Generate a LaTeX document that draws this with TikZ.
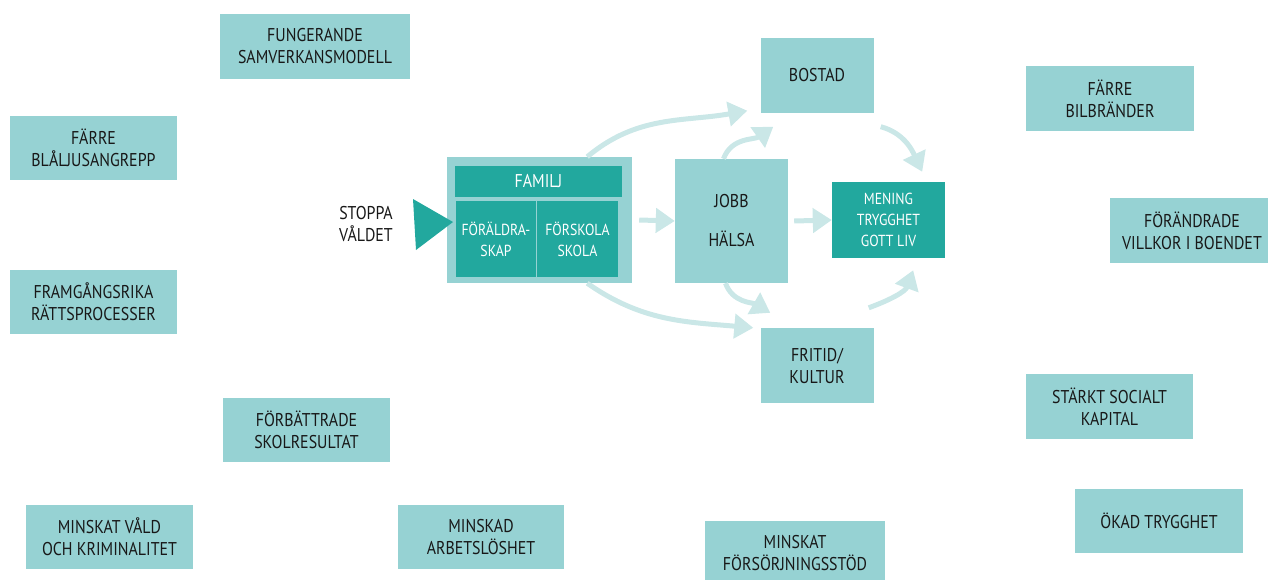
\documentclass[tikz,border=0pt]{standalone}
\usepackage{fontspec}
\setmainfont[FakeStretch=0.86]{PT Sans}
\definecolor{paleteal}{RGB}{150,210,211}
\definecolor{deepteal}{RGB}{34,168,158}
\definecolor{flowteal}{RGB}{202,231,231}
\definecolor{inkblack}{RGB}{24,24,24}
\usetikzlibrary{arrows.meta,positioning}
\tikzset{
    goal/.style={fill=paleteal, text=inkblack, align=center, inner sep=0pt,
                 font=\fontsize{18.5}{22}\selectfont},
    core/.style={fill=deepteal, text=white, align=center, inner sep=0pt,
                 font=\fontsize{16}{21}\selectfont},
    flow/.style={draw=flowteal, line width=5pt,
                 -{Triangle[length=19pt,width=24pt]}}
}

\begin{document}
\begin{tikzpicture}[x=1pt, y=-1pt]
    \useasboundingbox (0,0) rectangle (1268,579);

    \node[goal, minimum width=190, minimum height=65] (samv) at (315,46.5) {FUNGERANDE\\SAMVERKANSMODELL};
    \node[goal, minimum width=167, minimum height=64] (blal) at (93.5,148) {FÄRRE\\BLÅLJUSANGREPP};
    \node[goal, minimum width=167, minimum height=64] (ratt) at (93.5,302) {FRAMGÅNGSRIKA\\RÄTTSPROCESSER};
    \node[goal, minimum width=167, minimum height=64] (skol) at (306.5,430) {FÖRBÄTTRADE\\SKOLRESULTAT};
    \node[goal, minimum width=167, minimum height=64] (vald) at (109.5,537) {MINSKAT VÅLD\\OCH KRIMINALITET};
    \node[goal, minimum width=166, minimum height=64] (arbl) at (481,537) {MINSKAD\\ARBETSLÖSHET};
    \node[goal, minimum width=180, minimum height=64] (fors) at (795,553) {MINSKAT\\FÖRSÖRJNINGSSTÖD};
    \node[goal, minimum width=168, minimum height=65] (bilb) at (1110,98.5) {FÄRRE\\BILBRÄNDER};
    \node[goal, minimum width=164, minimum height=65] (vill) at (1192,230.5) {FÖRÄNDRADE\\VILLKOR I BOENDET};
    \node[goal, minimum width=167, minimum height=65] (kapi) at (1109.5,406.5) {STÄRKT SOCIALT\\KAPITAL};
    \node[goal, minimum width=168, minimum height=64] (tryg) at (1159,521) {ÖKAD TRYGGHET};

    \node[goal, minimum width=113, minimum height=75] (bost) at (817,75) {BOSTAD};
    \node[goal, minimum width=113, minimum height=75] (frit) at (817,365.5) {FRITID/\\KULTUR};
    \node[goal, minimum width=113, minimum height=124, font=\fontsize{18.5}{39}\selectfont] (jobb) at (731.5,221) {JOBB\\HÄLSA};
    \node[core, minimum width=113, minimum height=76] (mening) at (888.5,220) {MENING\\TRYGGHET\\GOTT LIV};

    \node[fill=paleteal, minimum width=185, minimum height=126, inner sep=0pt] (fam) at (539.5,220) {};
    \node[core, minimum width=167, minimum height=31, font=\fontsize{18.5}{22}\selectfont] (famhead) at (538.5,181.5) {FAMILJ};
    \node[core, minimum width=80, minimum height=76] (fora) at (496,239) {FÖRÄLDRA-\\SKAP};
    \node[core, minimum width=81, minimum height=76] (forsk) at (577.5,239) {FÖRSKOLA\\SKOLA};

    \node[align=center, text=inkblack, font=\fontsize{18.5}{22}\selectfont] (stopp) at (366,224) {STOPPA\\VÅLDET};
    \fill[deepteal] (413,199) -- (453,222) -- (416,250) -- cycle;

    \draw[flow] ([xshift=-45pt]fam.north east) to[out=40, in=190] ([xshift=-13pt, yshift=2pt]bost.south west);
    \draw[flow] ([xshift=7pt]fam.east) -- (jobb.west);
    \draw[flow] ([xshift=-8pt]jobb.north) to[out=70, in=215] ([xshift=13pt, yshift=-14pt]bost.south west);
    \draw[flow] ([xshift=6pt]jobb.east) -- (mening.west);
    \draw[flow] ([xshift=7pt, yshift=-14pt]bost.south east) to[out=-15, in=115] ([xshift=-23pt, yshift=10pt]mening.north east);
    \draw[flow] ([xshift=-6pt]jobb.south) to[out=-70, in=150] ([xshift=10pt, yshift=15pt]frit.north west);
    \draw[flow] ([xshift=-45pt]fam.south east) to[out=-35, in=175] ([xshift=-7pt]frit.north west);
    \draw[flow] ([xshift=-5pt, yshift=20pt]frit.north east) to[out=20, in=250] ([xshift=-32pt, yshift=-12pt]mening.south east);
\end{tikzpicture}
\end{document}
